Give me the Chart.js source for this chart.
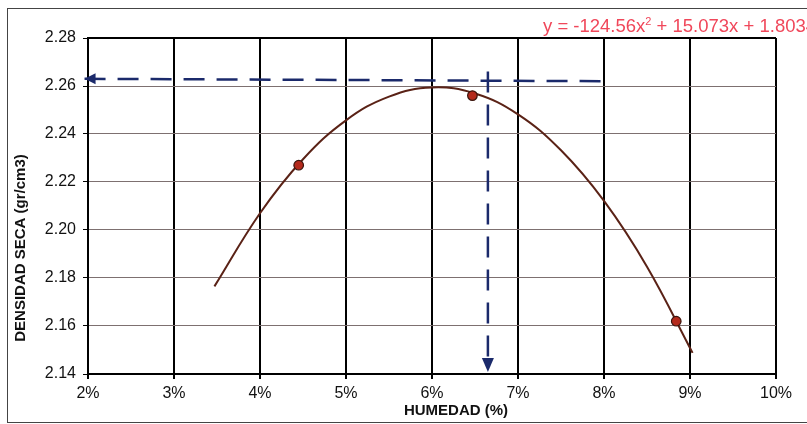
<!DOCTYPE html>
<html>
<head>
<meta charset="utf-8">
<script src="https://cdn.jsdelivr.net/npm/chart.js@4.4.0/dist/chart.umd.min.js"></script>
<style>
  html, body { margin: 0; padding: 0; background: #fff; }
  #wrap { width: 807px; height: 424px; position: relative; }
</style>
</head>
<body>
<div id="wrap"><canvas id="compactacion"></canvas></div>
<script>
// Ensayo de compactacion: humedad (%) vs densidad seca (gr/cm3)
const puntosX = [4.45, 6.47, 8.84];
const puntosY = [2.227, 2.256, 2.162];

// curva de ajuste
const curvaX = [3.47, 4.0, 4.5, 5.0, 5.5, 6.0, 6.5, 7.0, 7.5, 8.0, 8.5, 9.03];
const curvaY = [2.1765, 2.2070, 2.2295, 2.2457, 2.2556, 2.2594, 2.2569, 2.2482, 2.2332, 2.2121, 2.1847, 2.1488];

// lineas de lectura (optimo)
const lecturaHX = [1.96, 8.0];
const lecturaHY = [2.263, 2.262];
const lecturaVX = [6.65, 6.65];
const lecturaVY = [2.1408, 2.266];

const xTicks = [2, 3, 4, 5, 6, 7, 8, 9, 10];
const yTicks = [2.14, 2.16, 2.18, 2.20, 2.22, 2.24, 2.26, 2.28];

const ecuacion = ["y = -124.56x", "2", " + 15.073x + 1.8034"];
const tituloX = "HUMEDAD (%)";
const tituloY = "DENSIDAD SECA (gr/cm3)";

const FONT = "'Liberation Sans', Arial, sans-serif";
const AZUL = "#1b2a6b";

function pares(xs, ys) {
  return xs.map((x, i) => ({ x: x, y: ys[i] }));
}

// marco, titulos, ecuacion y puntas de flecha
const decoracion = {
  id: "decoracion",
  beforeDraw(chart) {
    const ctx = chart.ctx;
    ctx.save();
    ctx.fillStyle = "#fff";
    ctx.fillRect(0, 0, chart.width, chart.height);
    ctx.strokeStyle = "#444";
    ctx.lineWidth = 1;
    ctx.strokeRect(7.5, 8.5, chart.width + 10, chart.height - 10);
    ctx.restore();
  },
  afterDatasetsDraw(chart) {
    const ctx = chart.ctx;
    const xs = chart.scales.x, ys = chart.scales.y;
    const a = chart.chartArea;
    ctx.save();
    // borde superior del area
    ctx.strokeStyle = "#000";
    ctx.lineWidth = 2;
    ctx.beginPath();
    ctx.moveTo(a.left, a.top);
    ctx.lineTo(a.right, a.top);
    ctx.stroke();

    // flecha izquierda
    ctx.fillStyle = AZUL;
    let px = xs.getPixelForValue(lecturaHX[0]);
    let py = ys.getPixelForValue(lecturaHY[0]);
    ctx.beginPath();
    ctx.moveTo(px, py);
    ctx.lineTo(px + 11, py - 5.5);
    ctx.lineTo(px + 11, py + 5.5);
    ctx.closePath();
    ctx.fill();
    // flecha abajo
    px = xs.getPixelForValue(lecturaVX[0]);
    py = ys.getPixelForValue(lecturaVY[0]);
    ctx.beginPath();
    ctx.moveTo(px, py);
    ctx.lineTo(px - 6, py - 14);
    ctx.lineTo(px + 6, py - 14);
    ctx.closePath();
    ctx.fill();

    // titulos de ejes
    ctx.fillStyle = "#111";
    ctx.font = "bold 15px " + FONT;
    ctx.textAlign = "center";
    ctx.textBaseline = "middle";
    ctx.fillText(tituloX, 456, 411);
    ctx.translate(21, 248);
    ctx.rotate(-Math.PI / 2);
    ctx.fillText(tituloY, 0, 0);
    ctx.restore();

    // ecuacion de la linea de tendencia
    ctx.save();
    ctx.fillStyle = "#f0475a";
    ctx.textBaseline = "alphabetic";
    ctx.textAlign = "left";
    let tx = 543;
    const base = 32;
    ctx.font = "18.5px " + FONT;
    ctx.fillText(ecuacion[0], tx, base);
    tx += ctx.measureText(ecuacion[0]).width;
    ctx.font = "11px " + FONT;
    ctx.fillText(ecuacion[1], tx, base - 7);
    tx += ctx.measureText(ecuacion[1]).width;
    ctx.font = "18.5px " + FONT;
    ctx.fillText(ecuacion[2], tx, base);
    ctx.restore();
  }
};

const ctx = document.getElementById("compactacion").getContext("2d");
new Chart(ctx, {
  type: "scatter",
  data: {
    datasets: [
      {
        label: "curva",
        data: pares(curvaX, curvaY),
        showLine: true,
        borderColor: "#5a2216",
        borderWidth: 2,
        tension: 0.4,
        pointRadius: 0,
        order: 3
      },
      {
        label: "lectura horizontal",
        data: pares(lecturaHX, lecturaHY),
        showLine: true,
        borderColor: AZUL,
        borderWidth: 2.5,
        borderDash: [21, 12],
        pointRadius: 0,
        clip: false,
        order: 2
      },
      {
        label: "lectura vertical",
        data: [{ x: lecturaVX[1], y: lecturaVY[1] }, { x: lecturaVX[0], y: 2.1465 }],
        showLine: true,
        borderColor: AZUL,
        borderWidth: 2.5,
        borderDash: [21, 12],
        pointRadius: 0,
        clip: false,
        order: 2
      },
      {
        label: "ensayos",
        data: pares(puntosX, puntosY),
        showLine: false,
        backgroundColor: "#b42a1c",
        borderColor: "#3a140c",
        borderWidth: 1.2,
        pointRadius: 4.8,
        order: 1
      }
    ]
  },
  options: {
    responsive: true,
    maintainAspectRatio: false,
    animation: false,
    layout: { padding: { top: 38, right: 31, left: 0, bottom: 0 } },
    plugins: {
      legend: { display: false },
      tooltip: { enabled: false },
      title: { display: false }
    },
    scales: {
      x: {
        type: "linear",
        min: 2,
        max: 10,
        afterBuildTicks: s => { s.ticks = xTicks.map(v => ({ value: v })); },
        afterFit: s => { s.height = 50; },
        ticks: {
          callback: v => v + "%",
          color: "#111",
          font: { family: FONT, size: 16 },
          padding: 5,
          maxRotation: 0
        },
        grid: { color: "#000", lineWidth: 2, tickLength: 5, tickColor: "#000" },
        border: { display: true, color: "#000", width: 2 }
      },
      y: {
        min: 2.14,
        max: 2.28,
        afterBuildTicks: s => { s.ticks = yTicks.map(v => ({ value: v })); },
        afterFit: s => { s.width = 88; },
        ticks: {
          callback: v => v.toFixed(2),
          color: "#111",
          font: { family: FONT, size: 16 },
          padding: 7
        },
        grid: { color: "#7d7070", lineWidth: 1, tickLength: 5, tickColor: "#000" },
        border: { display: true, color: "#000", width: 2 }
      }
    }
  },
  plugins: [decoracion]
});
</script>
</body>
</html>
